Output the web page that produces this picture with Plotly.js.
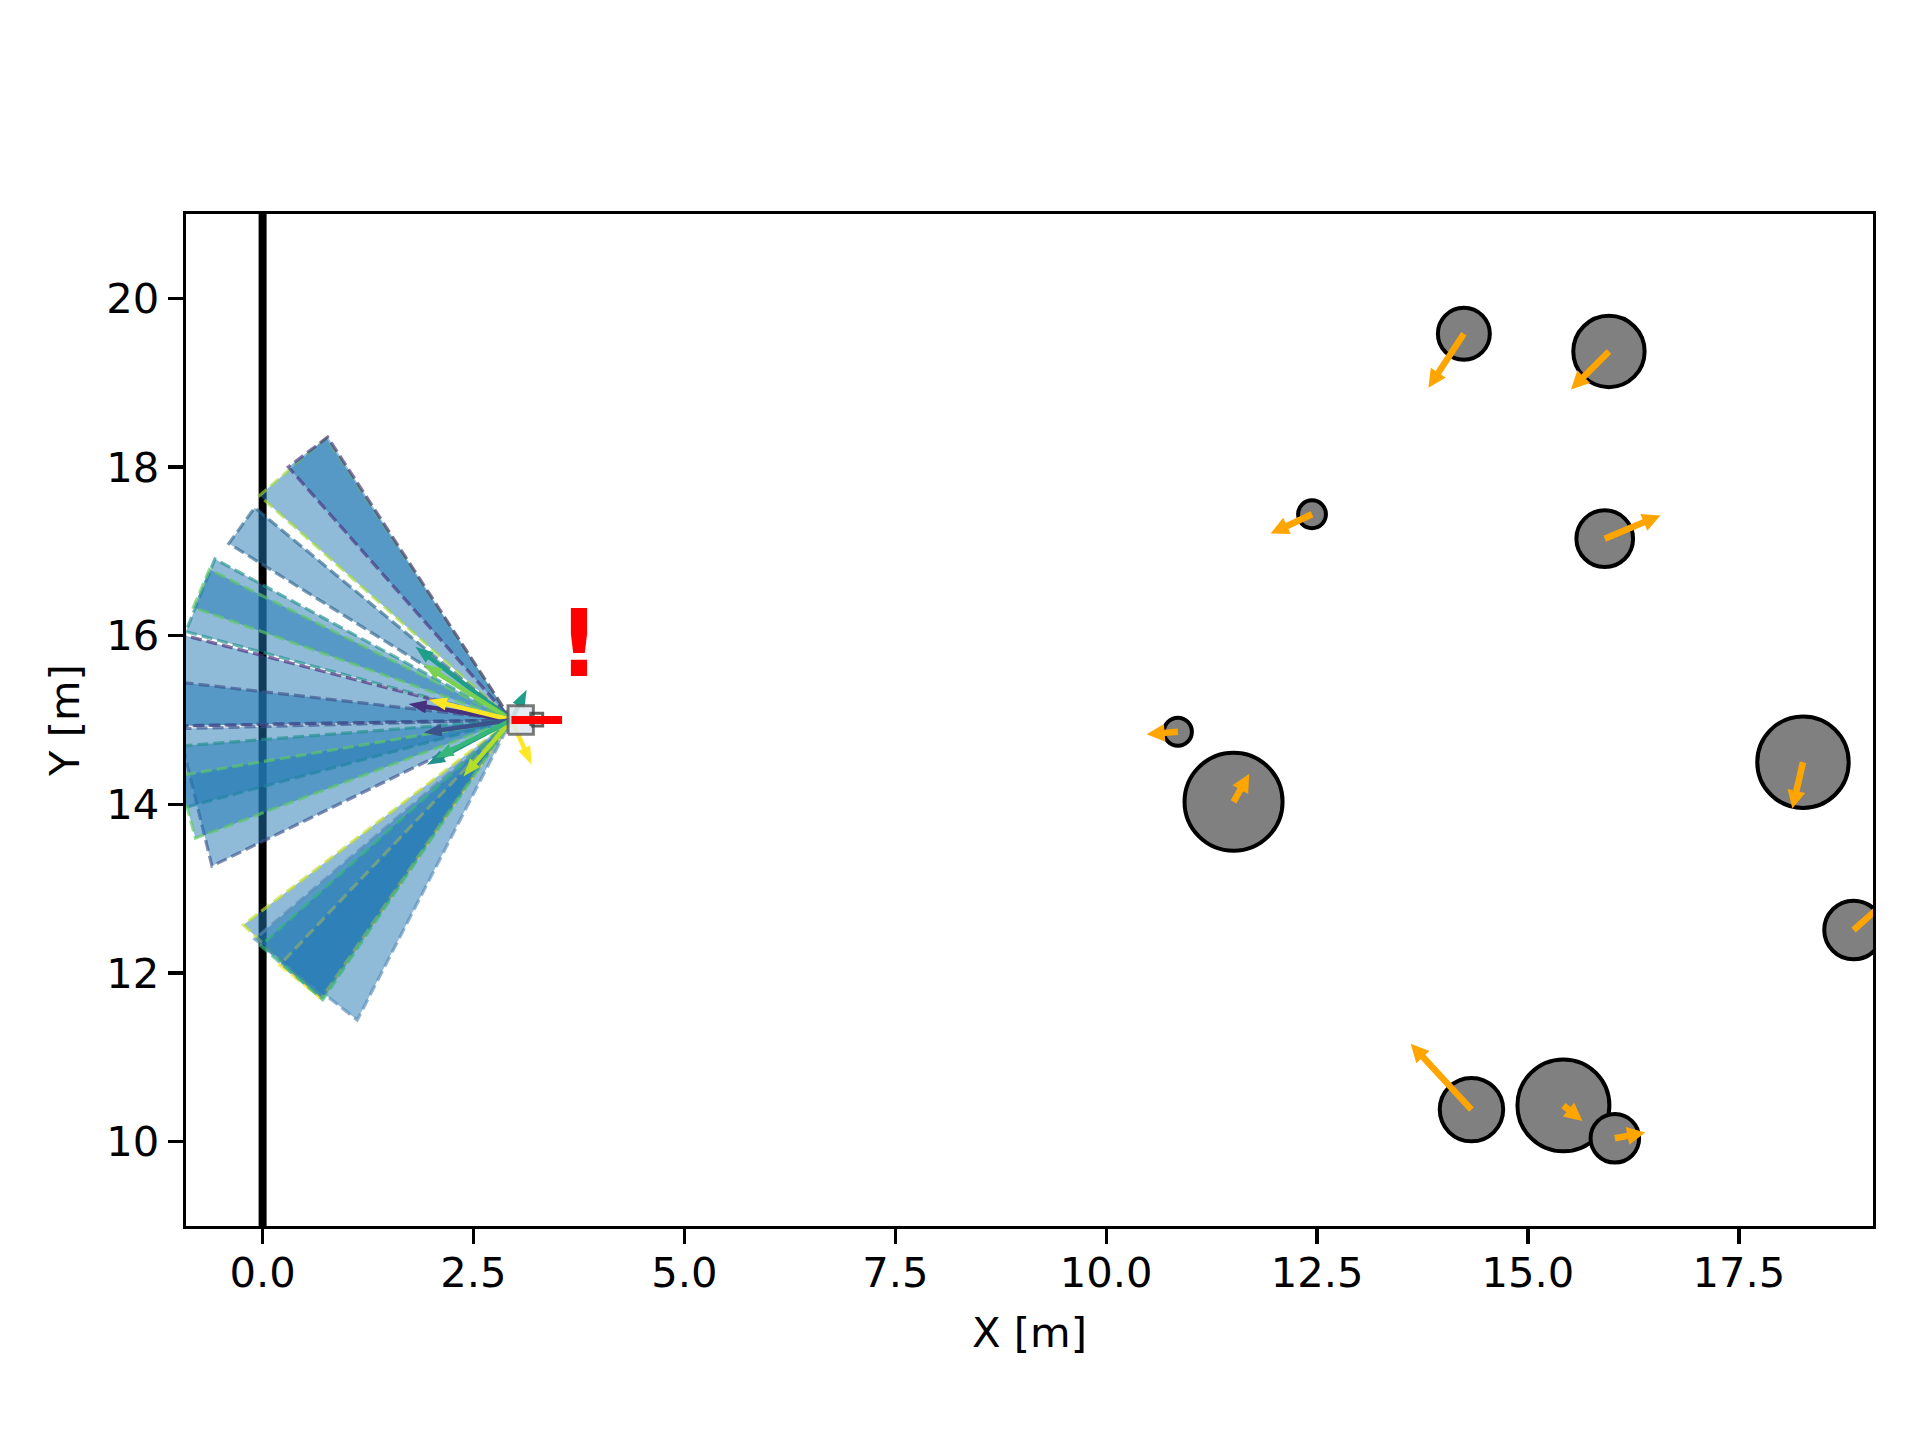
<!DOCTYPE html>
<html><head><meta charset="utf-8">
<script src="https://cdn.plot.ly/plotly-3.0.1.min.js"></script>
<style>html,body{margin:0;padding:0;background:#fff;} #chart{width:1920px;height:1440px;}</style>
</head><body><div id="chart"></div>
<script>
// ---- axis ticks ----
const xTickVals = [0, 2.5, 5, 7.5, 10, 12.5, 15, 17.5];
const xTickText = ["0.0", "2.5", "5.0", "7.5", "10.0", "12.5", "15.0", "17.5"];
const yTickVals = [10, 12, 14, 16, 18, 20];
const yTickText = ["10", "12", "14", "16", "18", "20"];

// ---- pedestrians (center, radius, velocity) ----
const pedX  = [14.24, 15.96, 15.91, 12.44, 10.85, 11.51, 18.26, 18.86, 14.33, 15.42, 16.03];
const pedY  = [19.58, 19.37, 17.15, 17.44, 14.86, 14.03, 14.50, 12.51, 10.38, 10.43, 10.04];
const pedR  = [0.308, 0.423, 0.336, 0.165, 0.166, 0.581, 0.542, 0.348, 0.376, 0.545, 0.288];
const pedVx = [-0.42, -0.45, 0.66, -0.49, -0.37, 0.185, -0.126, 0.45, -0.72, 0.225, 0.36];
const pedVy = [-0.64, -0.45, 0.276, -0.23, -0.03, 0.33, -0.55, 0.40, 0.78, -0.186, 0.07];

// ---- robot ----
const robotPos = [2.95, 15.0];
const robotHeadingLen = [0.6];
const wallX = [0.0];
const alertPos = [3.755, 15.9];

// ---- laser wedges (angles in degrees, range in m) ----
const wedgeStart = [123.3, 123.0, 140.4, 151.5, 153.5, 165.5, 173.5, 181.5, 184.5, 189.5, 217.4, 220.5, 226.6, 222.0];
const wedgeEnd   = [138.3, 131.4, 148.0, 164.8, 160.5, 181.0, 181.0, 206.0, 195.0, 200.5, 235.7, 242.8, 235.7, 236.0];
const wedgeRange = [4.0, 4.0, 3.95, 4.0, 4.0, 4.0, 4.0, 3.95, 4.0, 4.0, 4.0, 4.0, 4.0, 4.0];
const wedgeEdge  = ["#a0da39", "#46327e", "#31688e", "#21918c", "#5ec962", "#482878", "#3b528b",
                    "#3b528b", "#21918c", "#5ec962", "#c8e020", "#5b8db8", "#fde725", "#35b779"];

// ---- robot-centred arrows (viridis) ----
const rArrowDx = [-1.14, -1.04, -1.22, -0.98, -1.04, -1.00, -0.57, 0.18, 0.24, -0.90];
const rArrowDy = [0.87, 0.66, 0.19, 0.24, -0.15, -0.53, -0.67, 0.36, -0.53, -0.45];
const rArrowColor = ["#1f9e89", "#7ad151", "#46327e", "#fde725", "#3b528b", "#21918c", "#b5de2b", "#1f9e89", "#fde725", "#35b779"];

const PX = 84.34; // pixels per data unit (for arrow head sizes)

function hexA(h, a) {
  const r = parseInt(h.slice(1, 3), 16), g = parseInt(h.slice(3, 5), 16), b = parseInt(h.slice(5, 7), 16);
  return 'rgba(' + r + ',' + g + ',' + b + ',' + a + ')';
}

function arrowPoly(x, y, dx, dy, shaftW, headW, headL) {
  const L = Math.hypot(dx, dy);
  const ux = dx / L, uy = dy / L, nx = -uy, ny = ux;
  const hl = Math.min(headL, L);
  const bx = x + ux * (L - hl), by = y + uy * (L - hl);
  const pts = [
    [x + nx * shaftW / 2, y + ny * shaftW / 2],
    [bx + nx * shaftW / 2, by + ny * shaftW / 2],
    [bx + nx * headW / 2, by + ny * headW / 2],
    [x + dx, y + dy],
    [bx - nx * headW / 2, by - ny * headW / 2],
    [bx - nx * shaftW / 2, by - ny * shaftW / 2],
    [x - nx * shaftW / 2, y - ny * shaftW / 2],
    [x + nx * shaftW / 2, y + ny * shaftW / 2]
  ];
  return {x: pts.map(p => p[0]), y: pts.map(p => p[1])};
}

const traces = [];

// wall
traces.push({type: 'scatter', mode: 'lines', x: [wallX[0], wallX[0]], y: [8, 22],
  line: {color: '#000', width: 8}, hoverinfo: 'skip', showlegend: false});

// wedges
for (let i = 0; i < wedgeStart.length; i++) {
  const a1 = wedgeStart[i] * Math.PI / 180, a2 = wedgeEnd[i] * Math.PI / 180, R = wedgeRange[i];
  const xs = [robotPos[0], robotPos[0] + R * Math.cos(a1), robotPos[0] + R * Math.cos(a2), robotPos[0]];
  const ys = [robotPos[1], robotPos[1] + R * Math.sin(a1), robotPos[1] + R * Math.sin(a2), robotPos[1]];
  traces.push({type: 'scatter', mode: 'lines', x: xs, y: ys, fill: 'toself',
    fillcolor: 'rgba(31,119,180,0.5)',
    line: {color: hexA(wedgeEdge[i], 0.65), width: 3.2, dash: '11px,5px'},
    hoverinfo: 'skip', showlegend: false});
}

// robot arrows
for (let i = 0; i < rArrowDx.length; i++) {
  const p = arrowPoly(robotPos[0], robotPos[1], rArrowDx[i], rArrowDy[i], 4.5 / PX, 13 / PX, 18 / PX);
  traces.push({type: 'scatter', mode: 'lines', x: p.x, y: p.y, fill: 'toself',
    fillcolor: rArrowColor[i], line: {width: 0, color: rArrowColor[i]}, hoverinfo: 'skip', showlegend: false});
}

// robot body
(function(){
  const x0 = robotPos[0] - 0.04, x1 = robotPos[0] + 0.26, y0 = robotPos[1] - 0.17, y1 = robotPos[1] + 0.17;
  traces.push({type: 'scatter', mode: 'lines', x: [x0, x1, x1, x0, x0], y: [y0, y0, y1, y1, y0],
    fill: 'toself', fillcolor: 'rgba(225,232,240,0.85)', line: {color: 'rgba(90,90,90,0.8)', width: 3},
    hoverinfo: 'skip', showlegend: false});
  const a0 = robotPos[0] + 0.23, a1 = robotPos[0] + 0.37, b0 = robotPos[1] - 0.07, b1 = robotPos[1] + 0.08;
  traces.push({type: 'scatter', mode: 'lines', x: [a0, a1, a1, a0, a0], y: [b0, b0, b1, b1, b0],
    line: {color: 'rgba(60,60,60,0.8)', width: 3}, hoverinfo: 'skip', showlegend: false});
})();

// heading bar
traces.push({type: 'scatter', mode: 'lines', x: [robotPos[0], robotPos[0] + robotHeadingLen[0]], y: [robotPos[1], robotPos[1]],
  line: {color: '#ff0000', width: 8}, hoverinfo: 'skip', showlegend: false});

// pedestrian velocity arrows
for (let i = 0; i < pedX.length; i++) {
  const p = arrowPoly(pedX[i], pedY[i], pedVx[i], pedVy[i], 6.5 / PX, 18 / PX, 18 / PX);
  traces.push({type: 'scatter', mode: 'lines', x: p.x, y: p.y, fill: 'toself',
    fillcolor: '#ffa500', line: {width: 0, color: '#ffa500'}, hoverinfo: 'skip', showlegend: false});
}

// pedestrian circles as shapes below traces
const shapes = pedX.map((cx, i) => ({
  type: 'circle', xref: 'x', yref: 'y', layer: 'below',
  x0: cx - pedR[i], x1: cx + pedR[i], y0: pedY[i] - pedR[i], y1: pedY[i] + pedR[i],
  fillcolor: '#808080', line: {color: '#000', width: 4}
}));

const font = {family: 'DejaVu Sans, sans-serif', size: 41.7, color: '#000'};
const W = 1920, H = 1440, L = 186, R = 1873, T = 214, B = 1226;

const layout = {
  width: W, height: H,
  margin: {l: L, r: W - R, t: T, b: H - B, pad: 0},
  paper_bgcolor: '#fff', plot_bgcolor: '#fff',
  showlegend: false,
  font: font,
  xaxis: {range: [-0.908, 19.09], tickvals: xTickVals, ticktext: xTickText,
    showgrid: false, zeroline: false, showline: true, mirror: true, linecolor: '#000', linewidth: 3.3,
    ticks: 'outside', ticklen: 15, tickwidth: 3.3, tickcolor: '#000', tickfont: font, automargin: false,
    ticklabelstandoff: -7},
  yaxis: {range: [9, 21], tickvals: yTickVals, ticktext: yTickText,
    showgrid: false, zeroline: false, showline: true, mirror: true, linecolor: '#000', linewidth: 3.3,
    ticks: 'outside', ticklen: 15, tickwidth: 3.3, tickcolor: '#000', tickfont: font, automargin: false},
  shapes: shapes,
  annotations: [
    {text: 'X [m]', xref: 'paper', yref: 'paper', x: 0.5, y: (B - 1332) / (B - T),
      xanchor: 'center', yanchor: 'middle', showarrow: false, font: font},
    {text: 'Y [m]', xref: 'paper', yref: 'paper', x: (64 - L) / (R - L), y: 0.5, textangle: -90,
      xanchor: 'center', yanchor: 'middle', showarrow: false, font: font},
    {text: '<b>!</b>', xref: 'x', yref: 'y', x: alertPos[0], y: alertPos[1],
      xanchor: 'center', yanchor: 'middle', showarrow: false,
      font: {family: 'DejaVu Sans, sans-serif', size: 92, color: '#ff0000'}}
  ]
};

Plotly.newPlot('chart', traces, layout, {displayModeBar: false, staticPlot: true});
</script>
</body></html>
